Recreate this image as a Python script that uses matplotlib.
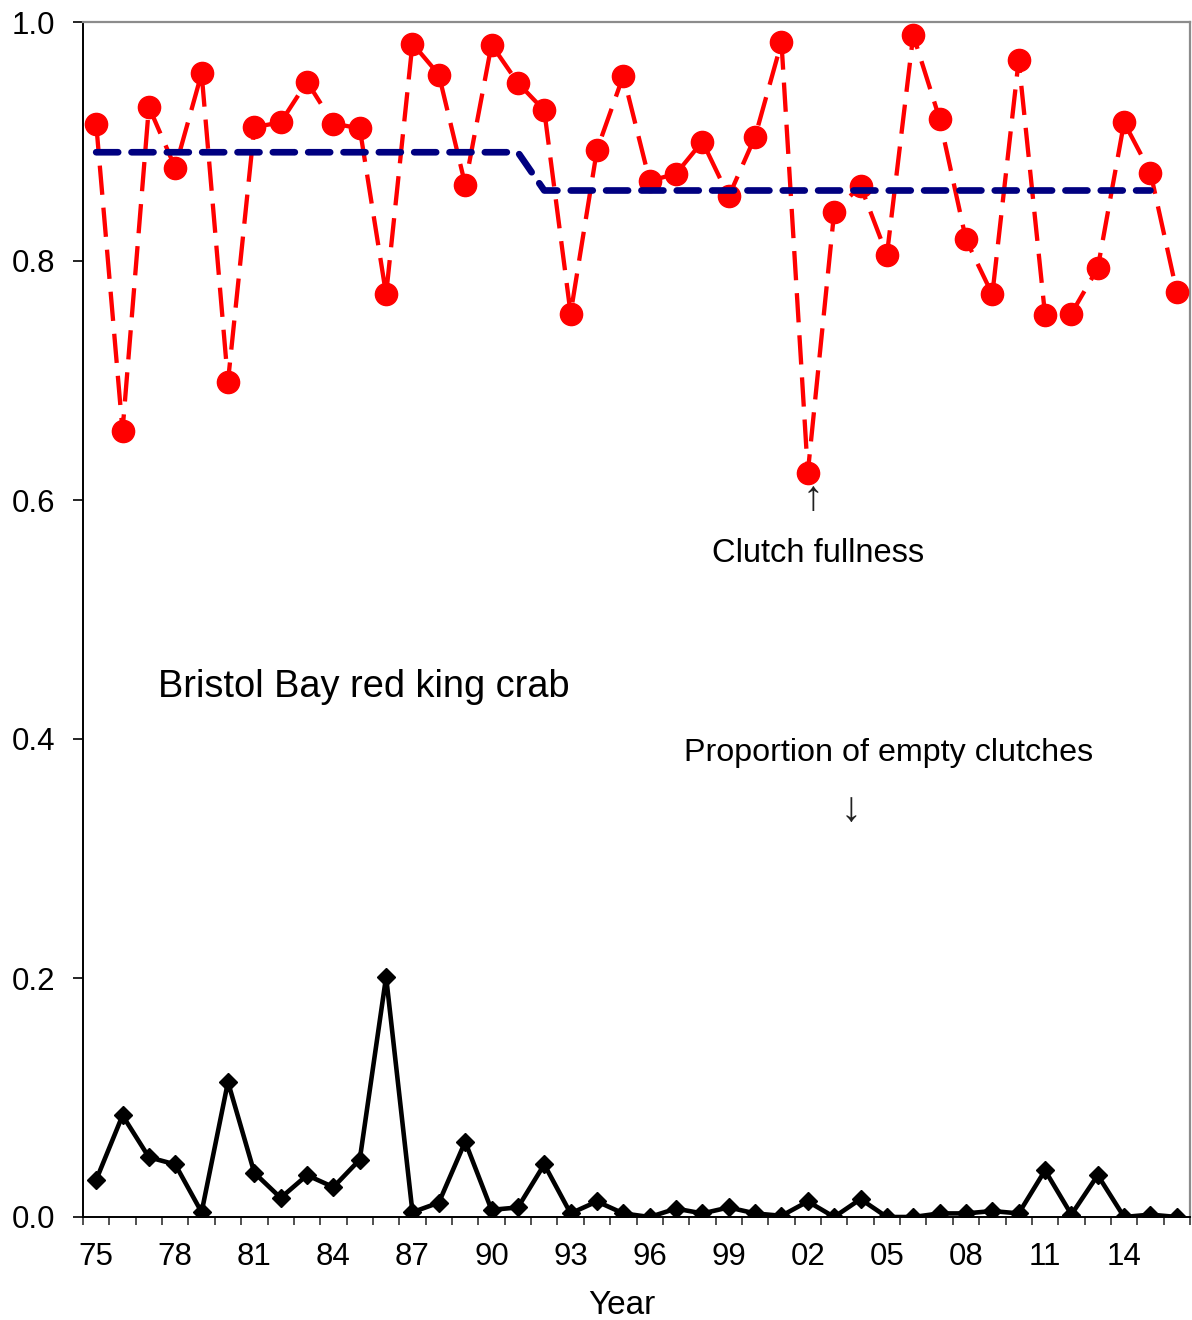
import matplotlib
matplotlib.use("Agg")
import matplotlib.pyplot as plt
import numpy as np

plt.rcParams['font.family'] = ['Liberation Sans', 'DejaVu Sans']

years = list(range(1975, 2017))

clutch_fullness = [
    0.915, 0.658, 0.929, 0.878, 0.957, 0.699, 0.912, 0.916, 0.950, 0.915,
    0.911, 0.772, 0.982, 0.956, 0.864, 0.981, 0.949, 0.926, 0.756, 0.893,
    0.955, 0.867, 0.873, 0.900, 0.854, 0.904, 0.983, 0.623, 0.841, 0.863,
    0.805, 0.989, 0.919, 0.818, 0.772, 0.968, 0.755, 0.756, 0.794, 0.916,
    0.874, 0.774,
]

empty_clutches = [
    0.031, 0.085, 0.050, 0.044, 0.004, 0.113, 0.037, 0.016, 0.035, 0.025,
    0.048, 0.201, 0.004, 0.012, 0.063, 0.006, 0.008, 0.044, 0.003, 0.013,
    0.003, 0.000, 0.007, 0.003, 0.008, 0.003, 0.001, 0.013, 0.000, 0.015,
    0.000, 0.000, 0.003, 0.003, 0.005, 0.003, 0.039, 0.002, 0.035, 0.000,
    0.002, 0.000,
]

# Period means of clutch fullness (1975-1991 and 1992-2015)
mean_years = list(range(1975, 2016))
mean_values = [0.891] * 17 + [0.859] * 24

xtick_labels = ['75', '78', '81', '84', '87', '90', '93', '96', '99',
                '02', '05', '08', '11', '14']
xtick_years = list(range(1975, 2016, 3))

fig = plt.figure(figsize=(11.92, 13.20), dpi=100)
ax = fig.add_axes([83 / 1192, 1 - 1217 / 1320, (1190 - 83) / 1192, (1217 - 22) / 1320])

# Clutch fullness: red dashed with circles
ax.plot(years, clutch_fullness, color='#ff0000', lw=3.1, dashes=(6.8, 3.0),
        marker='o', markersize=16, markerfacecolor='#ff0000',
        markeredgecolor='#ff0000', zorder=3)

# Period mean: navy dashed
ax.plot(mean_years, mean_values, color='#000080', lw=4.8,
        dashes=(3.3, 2.0), dash_capstyle='round', zorder=4)

# Proportion of empty clutches: black with diamonds
ax.plot(years, empty_clutches, color='black', lw=3.3, marker='D',
        markersize=9.5, markerfacecolor='black', markeredgecolor='black',
        zorder=3)

ax.set_xlim(1974.5, 2016.5)
ax.set_ylim(0, 1.0)

# Y axis
ax.set_yticks([0.0, 0.2, 0.4, 0.6, 0.8, 1.0])
ax.set_yticklabels(['0.0', '0.2', '0.4', '0.6', '0.8', '1.0'])
ax.tick_params(axis='y', direction='out', length=7, width=1.2,
               labelsize=22.5, pad=13)

# X axis: tick marks between categories, labels every third year
ax.set_xticks(np.arange(1974.5, 2017.0, 1.0))
ax.set_xticklabels([])
ax.set_xticks(xtick_years, minor=True)
ax.set_xticklabels(xtick_labels, minor=True)
ax.tick_params(axis='x', which='major', direction='out', length=6,
               width=1.2, color='#333333')
ax.tick_params(axis='x', which='minor', length=0, labelsize=22.5, pad=18)

ax.set_xlabel('Year', fontsize=24)
ax.xaxis.set_label_coords(0.487, -0.061)

for side in ['left', 'bottom']:
    ax.spines[side].set_color('black')
    ax.spines[side].set_linewidth(1.4)
for side in ['top', 'right']:
    ax.spines[side].set_color('#8c8c8c')
    ax.spines[side].set_linewidth(1.6)

# Annotations
ax.text(2002.2, 0.601, '\u2191', ha='center', va='center', fontsize=30,
        color='#222222')
ax.text(2002.4, 0.555, 'Clutch fullness', ha='center', va='center',
        fontsize=23.5)
ax.text(1977.34, 0.4435, 'Bristol Bay red king crab', ha='left',
        va='center', fontsize=27.4)
ax.text(2005.05, 0.388, 'Proportion of empty clutches', ha='center',
        va='center', fontsize=23.2)
ax.text(2003.65, 0.3406, '\u2193', ha='center', va='center', fontsize=30,
        color='#222222')

fig.savefig('out.png', dpi=100)
